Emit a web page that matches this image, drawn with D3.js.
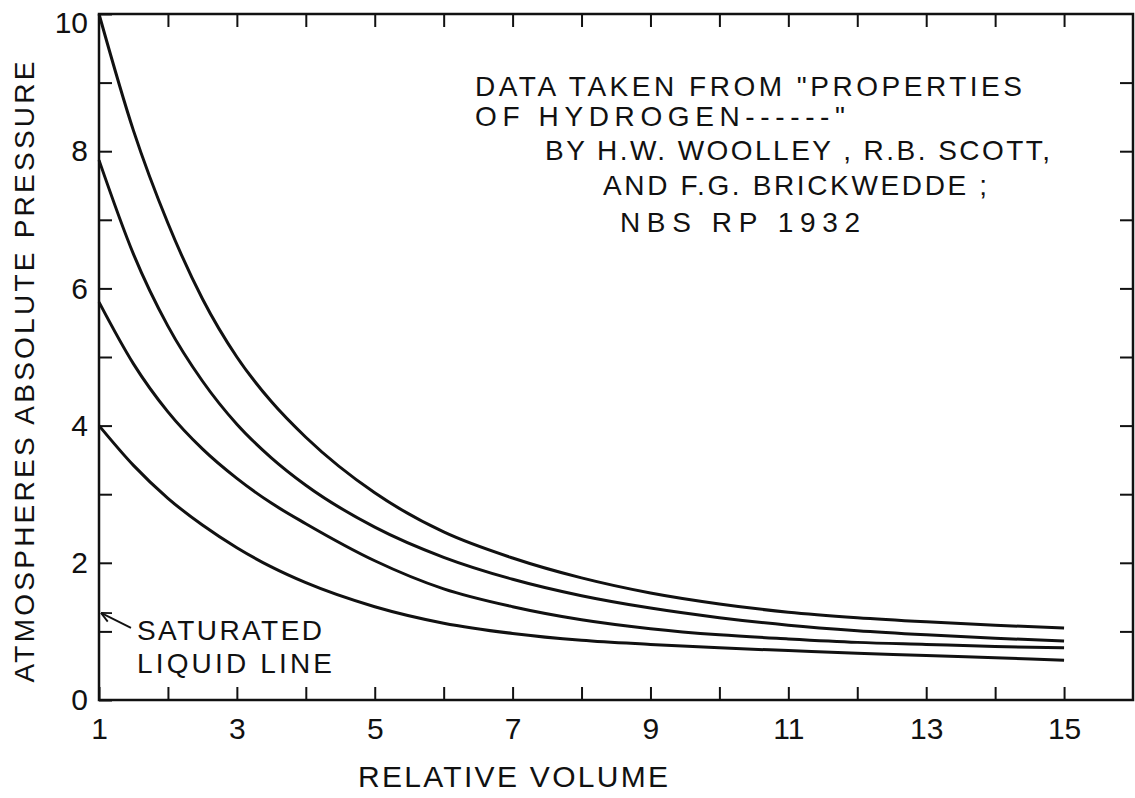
<!DOCTYPE html>
<html>
<head>
<meta charset="utf-8">
<script src="https://cdn.jsdelivr.net/npm/d3@7"></script>
<style>
  body { margin: 0; background: #fff; }
  text { font-family: "Liberation Sans", Arial, sans-serif; fill: #111; }
</style>
</head>
<body>
<svg id="chart"></svg>
<script>
// values (relative volume vs pressure, atm)
const volume = [1, 1.5, 2, 2.5, 3, 3.5, 4, 5, 6, 7, 8, 9, 10, 11, 12, 13, 14, 15];
const curveA = [10, 8.3, 6.95, 5.85, 5.0, 4.35, 3.83, 3.02, 2.45, 2.07, 1.78, 1.56, 1.40, 1.28, 1.2, 1.14, 1.09, 1.05];
const curveB = [7.87, 6.5, 5.45, 4.65, 4.02, 3.53, 3.13, 2.52, 2.08, 1.76, 1.52, 1.34, 1.2, 1.09, 1.01, 0.95, 0.9, 0.86];
const curveC = [5.8, 4.9, 4.2, 3.66, 3.23, 2.87, 2.57, 2.03, 1.62, 1.36, 1.17, 1.04, 0.95, 0.89, 0.84, 0.81, 0.78, 0.76];
const curveD = [4.0, 3.42, 2.94, 2.55, 2.22, 1.94, 1.71, 1.36, 1.12, 0.97, 0.87, 0.81, 0.76, 0.72, 0.68, 0.65, 0.615, 0.58];

const xLabels = [1, 3, 5, 7, 9, 11, 13, 15];
const yLabels = [0, 2, 4, 6, 8, 10];
const satPoint = [1, 1.27];   // saturated liquid line point

const noteLines = [
  "DATA TAKEN FROM \"PROPERTIES",
  "OF HYDROGEN------\"",
  "BY H.W. WOOLLEY , R.B. SCOTT,",
  "AND F.G. BRICKWEDDE ;",
  "NBS RP 1932"
];

const width = 1135, height = 798;

const svg = d3.select("#chart")
    .attr("width", width)
    .attr("height", height);

const x = d3.scaleLinear().domain([1, 16]).range([99, 1133]);
const y = d3.scaleLinear().domain([0, 10]).range([700, 14]);

// frame
svg.append("rect")
    .attr("x", x(1)).attr("y", y(10))
    .attr("width", x(16) - x(1)).attr("height", y(0) - y(10))
    .attr("fill", "none").attr("stroke", "#111").attr("stroke-width", 2.5);

const tickLen = 13;

// bottom axis: inward ticks, odd labels
const xAxis = svg.append("g")
    .attr("transform", `translate(0,${y(0)})`)
    .call(d3.axisBottom(x).tickValues(d3.range(1, 16)).tickSize(-tickLen).tickPadding(18)
        .tickFormat(d => xLabels.includes(d) ? d : ""));
xAxis.select(".domain").remove();
xAxis.selectAll("line").attr("stroke", "#111").attr("stroke-width", 2);
xAxis.selectAll("text").style("font-size", "30px").attr("fill", "#111")
    .style("font-family", "'Liberation Sans', Arial, sans-serif");

// top axis
const xTop = svg.append("g")
    .attr("transform", `translate(0,${y(10)})`)
    .call(d3.axisTop(x).tickValues(d3.range(2, 16)).tickSize(-tickLen).tickFormat(""));
xTop.select(".domain").remove();
xTop.selectAll("line").attr("stroke", "#111").attr("stroke-width", 2);

// left axis
const yAxis = svg.append("g")
    .attr("transform", `translate(${x(1)},0)`)
    .call(d3.axisLeft(y).tickValues(d3.range(0, 11)).tickSize(-tickLen).tickPadding(11)
        .tickFormat(d => yLabels.includes(d) ? d : ""));
yAxis.select(".domain").remove();
yAxis.selectAll("line").attr("stroke", "#111").attr("stroke-width", 2);
yAxis.selectAll("text").style("font-size", "30px").attr("fill", "#111")
    .style("font-family", "'Liberation Sans', Arial, sans-serif");
// top label sits a little below the corner, as in the drawing
yAxis.selectAll(".tick").filter(d => d === 10).select("text").attr("dy", "0.6em");

// right axis
const yRight = svg.append("g")
    .attr("transform", `translate(${x(16)},0)`)
    .call(d3.axisRight(y).tickValues(d3.range(1, 10)).tickSize(-tickLen).tickFormat(""));
yRight.select(".domain").remove();
yRight.selectAll("line").attr("stroke", "#111").attr("stroke-width", 2);

// curves
const line = d3.line()
    .x(d => x(d[0]))
    .y(d => y(d[1]))
    .curve(d3.curveMonotoneX);

[curveA, curveB, curveC, curveD].forEach(c => {
    svg.append("path")
        .datum(volume.map((v, i) => [v, c[i]]))
        .attr("d", line)
        .attr("fill", "none")
        .attr("stroke", "#111")
        .attr("stroke-width", 3);
});

// axis titles
svg.append("text")
    .attr("x", 513).attr("y", 787)
    .attr("text-anchor", "middle")
    .attr("textLength", 310).attr("lengthAdjust", "spacing")
    .style("font-size", "30px")
    .text("RELATIVE VOLUME");

svg.append("text")
    .attr("transform", "translate(34,372) rotate(-90)")
    .attr("text-anchor", "middle")
    .attr("textLength", 621).attr("lengthAdjust", "spacing")
    .style("font-size", "28px")
    .text("ATMOSPHERES ABSOLUTE PRESSURE");

// note block
const noteLayout = [
  {x: 475, y: 96, w: 547},
  {x: 475, y: 126, w: 370},
  {x: 545, y: 160, w: 505},
  {x: 603, y: 195, w: 384},
  {x: 620, y: 232, w: 240}
];
svg.append("g").selectAll("text")
    .data(noteLines)
    .join("text")
    .attr("x", (d, i) => noteLayout[i].x)
    .attr("y", (d, i) => noteLayout[i].y)
    .attr("textLength", (d, i) => noteLayout[i].w)
    .attr("lengthAdjust", "spacing")
    .style("font-size", "28px")
    .text(d => d);

// saturated liquid line label + arrow
const tipX = x(satPoint[0]) + 2, tipY = y(satPoint[1]);
const tailX = tipX + 30, tailY = tipY + 15;
svg.append("line")
    .attr("x1", tailX).attr("y1", tailY).attr("x2", tipX).attr("y2", tipY)
    .attr("stroke", "#111").attr("stroke-width", 1.8);
const ang = Math.atan2(tailY - tipY, tailX - tipX);
[-0.45, 0.45].forEach(a => {
    svg.append("line")
        .attr("x1", tipX).attr("y1", tipY)
        .attr("x2", tipX + 11 * Math.cos(ang + a))
        .attr("y2", tipY + 11 * Math.sin(ang + a))
        .attr("stroke", "#111").attr("stroke-width", 1.8);
});

svg.append("text")
    .attr("x", 137).attr("y", 640)
    .attr("textLength", 185).attr("lengthAdjust", "spacing")
    .style("font-size", "28px")
    .text("SATURATED");
svg.append("text")
    .attr("x", 137).attr("y", 673)
    .attr("textLength", 195).attr("lengthAdjust", "spacing")
    .style("font-size", "28px")
    .text("LIQUID LINE");
</script>
</body>
</html>
